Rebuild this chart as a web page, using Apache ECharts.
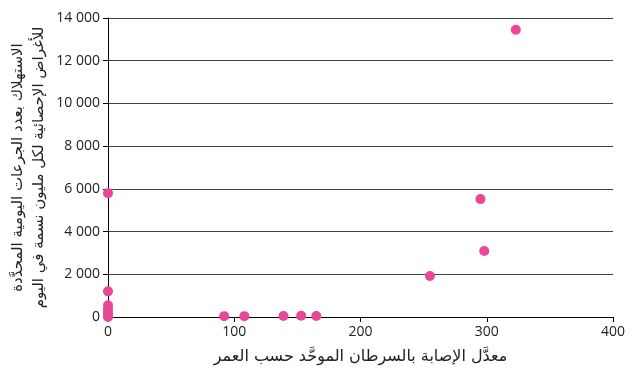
<!DOCTYPE html>
<html>
<head>
<meta charset="utf-8">
<script src="https://cdn.jsdelivr.net/npm/echarts@6/dist/echarts.min.js"></script>
<style>
  html, body { margin: 0; padding: 0; background: #fff; }
  #chart { width: 635px; height: 372px; }
</style>
</head>
<body>
<div id="chart"></div>
<script>
  // incidence (x) vs consumption (y)
  const incidence = [0, 0, 0, 0, 0, 0, 0, 92, 108, 139, 153, 165, 255, 295, 298, 323]
  const consumption = [5800, 1200, 550, 350, 200, 100, 0, 40, 40, 50, 60, 50, 1920, 5520, 3090, 13450]
  const xTicks = [0, 100, 200, 300, 400]
  const yTicks = [0, 2000, 4000, 6000, 8000, 10000, 12000, 14000]

  const xName = 'معدَّل الإصابة بالسرطان الموحَّد حسب العمر'
  const yName = 'الاستهلاك بعدد الجرعات اليومية المحدَّدة\nللأغراض الإحصائية لكل مليون نسمة في اليوم'

  const points = incidence.map((x, i) => [x, consumption[i]])

  let chart = echarts.init(document.getElementById('chart'))
  chart.setOption({
    animation: false,
    grid: {
      left: 108,
      right: 22,
      top: 18,
      bottom: 55,
      containLabel: false,
      outerBoundsMode: 'none'
    },
    xAxis: {
      type: 'value',
      min: xTicks[0],
      max: xTicks[xTicks.length - 1],
      interval: 100,
      name: xName,
      nameLocation: 'middle',
      nameGap: 32,
      nameTextStyle: { fontSize: 16, color: '#222', fontFamily: 'DejaVu Sans' },
      axisLine: { lineStyle: { color: '#000', width: 1 } },
      axisTick: { show: true, length: 5, lineStyle: { color: '#000' } },
      axisLabel: { fontSize: 14, color: '#222', margin: 8, fontFamily: 'Open Sans' },
      splitLine: { show: false }
    },
    yAxis: {
      type: 'value',
      min: yTicks[0],
      max: yTicks[yTicks.length - 1],
      interval: 2000,
      name: yName,
      nameLocation: 'middle',
      nameRotate: 90,
      nameGap: 58,
      nameMoveOverlap: false,
      nameTextStyle: { fontSize: 15, color: '#222', fontFamily: 'DejaVu Sans', lineHeight: 21 },
      axisLine: { show: true, lineStyle: { color: '#000', width: 1 } },
      axisTick: { show: true, length: 5, lineStyle: { color: '#000' } },
      axisLabel: {
        fontSize: 14,
        color: '#222',
        margin: 8,
        fontFamily: 'Open Sans',
        formatter: v => String(v).replace(/\B(?=(\d{3})+(?!\d))/g, ' ')
      },
      splitLine: { show: true, lineStyle: { color: '#444', width: 1 } }
    },
    series: [{
      type: 'scatter',
      data: points,
      symbolSize: 10,
      itemStyle: { color: '#ea4896', opacity: 1 }
    }]
  })
</script>
</body>
</html>
